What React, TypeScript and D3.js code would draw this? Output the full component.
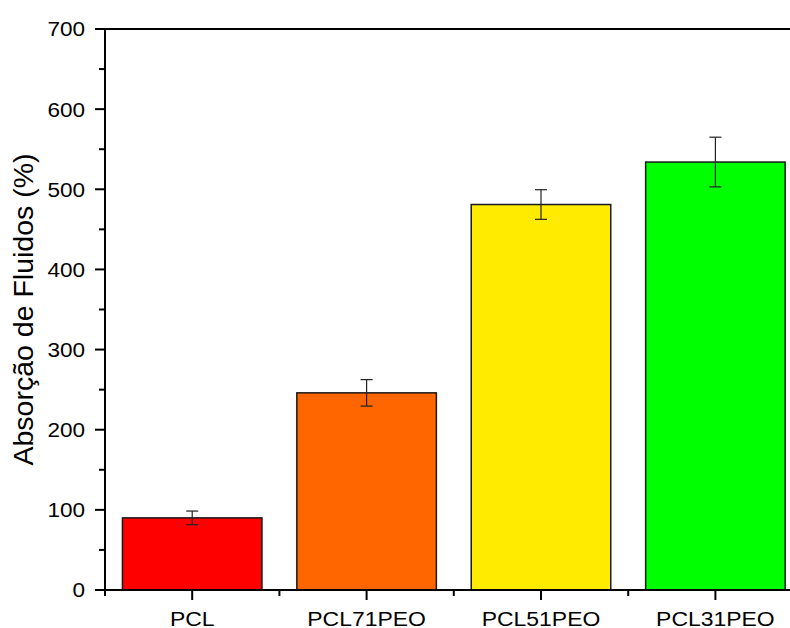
import React from "react";
import * as d3 from "d3";

const categories = ["PCL", "PCL71PEO", "PCL51PEO", "PCL31PEO"];
const values = [90, 246, 481, 534];
const errors = [8.5, 16.5, 18.5, 31];
const colors = ["#FF0000", "#FF6600", "#FFEB00", "#00FF00"];
const yMajorTicks = [0, 100, 200, 300, 400, 500, 600, 700];
const yMinorTicks = [50, 150, 250, 350, 450, 550, 650];
const yTitle = "Absorção de Fluidos (%)";

const W = 790;
const H = 628;
const FONT = "Arial, 'Liberation Sans', sans-serif";

export default function App() {
  const left = 105;
  const right = 802.6;
  const top = 29;
  const bottom = 590;
  const x = d3.scaleBand<string>().domain(categories).range([left, right]).paddingInner(0.2).paddingOuter(0.1);
  const y = d3.scaleLinear().domain([0, 700]).range([bottom, top]);
  const step = x.step();
  const boundaries = d3.range(categories.length + 1).map((i) => left + i * step);
  const bw = x.bandwidth();

  return (
    <svg width={W} height={H} style={{ position: "absolute", left: 0, top: 0, background: "#fff" }}>
      <rect x={0} y={0} width={W} height={H} fill="#fff" />
      {categories.map((c, i) => (
        <rect key={c} x={x(c)!} y={y(values[i])} width={bw} height={bottom - y(values[i])}
          fill={colors[i]} stroke="#1a1a1a" strokeWidth={1.5} />
      ))}
      {categories.map((c, i) => {
        const cx = x(c)! + bw / 2;
        const y1 = y(values[i] + errors[i]);
        const y2 = y(values[i] - errors[i]);
        return (
          <g key={"e" + c} stroke="#222" strokeWidth={1.2}>
            <line x1={cx} x2={cx} y1={y1} y2={y2} />
            <line x1={cx - 6} x2={cx + 6} y1={y1} y2={y1} />
            <line x1={cx - 6} x2={cx + 6} y1={y2} y2={y2} />
          </g>
        );
      })}
      <line x1={left} x2={W + 20} y1={top} y2={top} stroke="#000" strokeWidth={2} />
      <line x1={left} x2={W + 20} y1={bottom} y2={bottom} stroke="#000" strokeWidth={2} />
      <line x1={left} x2={left} y1={top - 1} y2={bottom + 1} stroke="#000" strokeWidth={2} />
      {yMajorTicks.map((t) => (
        <g key={"ym" + t}>
          <line x1={left - 10} x2={left} y1={y(t)} y2={y(t)} stroke="#000" strokeWidth={2} />
          <text transform={`translate(85, ${y(t)}) scale(1.1, 1)`} dy="0.36em" textAnchor="end"
            fontFamily={FONT} fontSize={20.5} fill="#000">{t}</text>
        </g>
      ))}
      {yMinorTicks.map((t) => (
        <line key={"yn" + t} x1={left - 6} x2={left} y1={y(t)} y2={y(t)} stroke="#000" strokeWidth={2} />
      ))}
      {categories.map((c) => {
        const cx = x(c)! + bw / 2;
        return (
          <g key={"xt" + c}>
            <line x1={cx} x2={cx} y1={bottom} y2={bottom + 10} stroke="#000" strokeWidth={2} />
            <text transform={`translate(${cx}, 625.5) scale(1.12, 1)`} textAnchor="middle"
              fontFamily={FONT} fontSize={20.5} fill="#000">{c}</text>
          </g>
        );
      })}
      {boundaries.map((b, i) => (
        <line key={"xb" + i} x1={b} x2={b} y1={bottom} y2={bottom + 6} stroke="#000" strokeWidth={2} />
      ))}
      <text transform={`translate(33, ${(top + bottom) / 2}) rotate(-90)`} textAnchor="middle"
        fontFamily={FONT} fontSize={28.5} fill="#000">{yTitle}</text>
    </svg>
  );
}
